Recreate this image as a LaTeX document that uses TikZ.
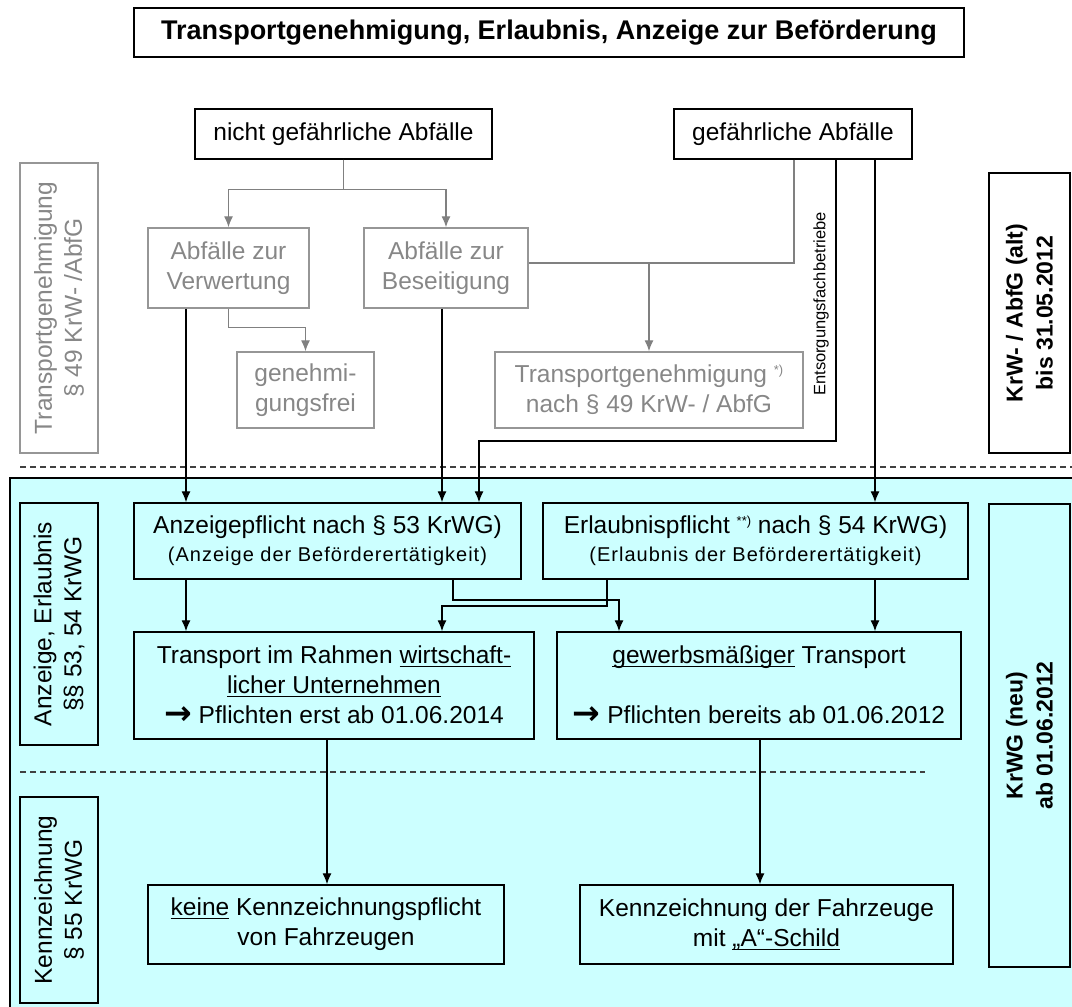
\documentclass[tikz,border=0pt]{standalone}
\usepackage{fontspec}
\setmainfont{Liberation Sans}
\newfontfamily\arrowfont{DejaVu Sans}
\usetikzlibrary{arrows.meta,calc}
\definecolor{cyanbg}{RGB}{204,255,255}
\definecolor{grline}{RGB}{128,128,128}
\definecolor{grtext}{RGB}{135,135,135}
\definecolor{grbox}{RGB}{150,150,150}
\newsavebox\ulbox
\newcommand{\myul}[1]{\sbox\ulbox{#1}\rlap{\rule[-3pt]{\wd\ulbox}{1.2pt}}\usebox\ulbox}
\newcommand{\supnote}[1]{\raisebox{8pt}{\fontsize{13}{13}\selectfont #1}}
\newcommand{\subline}{\fontsize{20}{24}\selectfont\addfontfeatures{LetterSpace=5}}
\newcommand{\thenarrow}{\raisebox{-1pt}{\scalebox{1.35}{\arrowfont\bfseries →}}}
\begin{document}
\begin{tikzpicture}[x=1pt,y=-1pt,
  txt/.style={font=\fontsize{24.5}{30}\selectfont},
  bbox/.style={draw=black, line width=1.4pt, inner sep=0pt, align=center, txt},
  gbox/.style={draw=grbox, line width=1.4pt, inner sep=0pt, align=center, text=grtext, txt},
  boldbox/.style={bbox, font=\bfseries\fontsize{23}{30}\selectfont},
  arr/.style={-{Latex[length=11pt,width=9pt]}, line width=1.3pt},
  garr/.style={arr, draw=grline, color=grline},
  gline/.style={draw=grline, line width=1.3pt},
  sep/.style={line width=1.2pt, draw=black!75, dash pattern=on 6pt off 4pt}]
\useasboundingbox (0,0) rectangle (1072,1007);
% background of the new-law region
\fill[cyanbg] (10,478) rectangle (1085,1015);
\draw[line width=1.4pt] (1085,478) -- (10,478) -- (10,1015);
\draw[sep] (20,467) -- (1072,467);
\draw[sep] (20,772) -- (925,772);

% title
\node[bbox, font=\bfseries\fontsize{27}{30}\selectfont, minimum width=830pt, minimum height=49pt] (title) at (549,32.5) {Transportgenehmigung, Erlaubnis, Anzeige zur Beförderung};

% top level
\node[bbox, minimum width=297pt, minimum height=50pt] (nicht) at (343.5,134) {nicht gefährliche Abfälle};
\node[bbox, minimum width=238pt, minimum height=50pt] (gef) at (793,134) {gefährliche Abfälle};

% old law (gray)
\node[gbox, minimum width=161pt, minimum height=80pt] (verw) at (228.5,268) {Abfälle zur\\Verwertung};
\node[gbox, minimum width=164pt, minimum height=80pt] (besei) at (446,268) {Abfälle zur\\Beseitigung};
\node[gbox, minimum width=137pt, minimum height=76pt] (genfrei) at (305.5,390) {genehmi-\\gungsfrei};
\node[gbox, minimum width=308pt, minimum height=76pt] (tgen) at (649,390) {Transportgenehmigung \supnote{*)}\\nach § 49 KrW- / AbfG};
\node[gbox, rotate=90, minimum width=290pt, minimum height=78pt] (ltop) at (59,308) {Transportgenehmigung\\§ 49 KrW- /AbfG};
\node[boldbox, rotate=90, minimum width=280pt, minimum height=81pt] (rtop) at (1029.5,313) {KrW- / AbfG (alt)\\bis 31.05.2012};

% new law
\node[bbox, minimum width=387pt, minimum height=76pt] (anz) at (327.5,541) {Anzeigepflicht nach § 53 KrWG)\\[-2pt]{\subline (Anzeige der Beförderertätigkeit)}};
\node[bbox, minimum width=425pt, minimum height=76pt] (erl) at (755.5,541) {Erlaubnispflicht \supnote{**)} nach § 54 KrWG)\\[-2pt]{\subline (Erlaubnis der Beförderertätigkeit)}};
\node[bbox, minimum width=400pt, minimum height=107pt] (trans) at (334,685.5) {Transport im Rahmen \myul{wirtschaft-}\\\myul{licher Unternehmen}\\\thenarrow{} Pflichten erst ab 01.06.2014};
\node[bbox, minimum width=404pt, minimum height=107pt] (gew) at (759,685.5) {\myul{gewerbsmäßiger} Transport\\[30pt]\thenarrow{} Pflichten bereits ab 01.06.2012};
\node[bbox, minimum width=356pt, minimum height=79pt] (keine) at (326,924.5) {\myul{keine} Kennzeichnungspflicht\\von Fahrzeugen};
\node[bbox, minimum width=373pt, minimum height=79pt] (kenn) at (766.5,924.5) {Kennzeichnung der Fahrzeuge\\mit \myul{„A“-Schild}};
\node[bbox, rotate=90, minimum width=242pt, minimum height=78pt] (lmid) at (59,624) {Anzeige, Erlaubnis\\§§ 53, 54 KrWG};
\node[bbox, rotate=90, minimum width=206pt, minimum height=78pt] (lbot) at (59,900) {Kennzeichnung\\§ 55 KrWG};
\node[boldbox, rotate=90, minimum width=463pt, minimum height=81pt] (rbot) at (1029.5,735.5) {KrWG (neu)\\ab 01.06.2012};

% helper x positions / bends
\coordinate (x186) at (186,0);
\coordinate (x442) at (442,0);
\coordinate (x453) at (453,0);
\coordinate (x607) at (607,0);
\coordinate (x794) at (794,0);
\coordinate (x836) at (836,0);
\coordinate (x875) at (875,0);
\coordinate (x327) at (327,0);
\coordinate (x760) at (760,0);
\coordinate (b6) at (479,441);
\coordinate (b9) at (619,600);
\coordinate (b10) at (442,606);
\coordinate (g263) at (0,263);

% gray connectors
\draw[garr] (nicht.south) -- ++(0,30) -| (verw.north);
\draw[garr] (nicht.south) -- ++(0,30) -| (besei.north);
\draw[garr] (verw.south) -- ++(0,19) -| (genfrei.north);
\draw[gline] (gef.south -| x794) |- (besei.east |- g263);
\draw[garr] (tgen.north |- g263) -- (tgen.north);

% black connectors
\draw[arr] (verw.south -| x186) -- (anz.north -| x186);
\draw[arr] (besei.south -| x442) -- (anz.north -| x442);
\draw[arr] (gef.south -| x836) |- (b6) -- (anz.north -| b6);
\node[rotate=90, font=\fontsize{16.5}{16.5}\selectfont, inner sep=0pt] (entsorg) at (821,304) {Entsorgungsfachbetriebe};
\draw[arr] (gef.south -| x875) -- (erl.north -| x875);
\draw[arr] (anz.south -| x186) -- (trans.north -| x186);
\draw[arr] (anz.south -| x453) |- (b9) -- (gew.north -| b9);
\draw[arr] (erl.south -| x607) |- (b10) -- (trans.north -| b10);
\draw[arr] (erl.south -| x875) -- (gew.north -| x875);
\draw[arr] (trans.south -| x327) -- (keine.north -| x327);
\draw[arr] (gew.south -| x760) -- (kenn.north -| x760);
\end{tikzpicture}
\end{document}
